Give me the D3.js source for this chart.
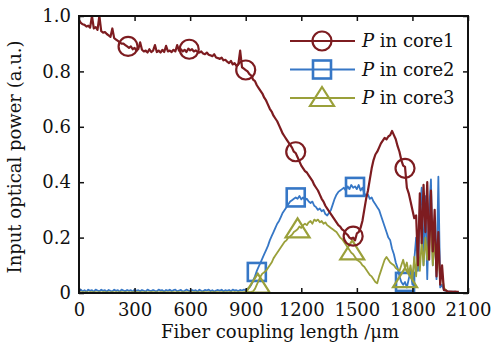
<!DOCTYPE html>
<html>
<head>
<meta charset="utf-8">
<script src="https://cdn.jsdelivr.net/npm/d3@7"></script>
<style>
  body { margin: 0; background: #fff; }
  text { font-family: "DejaVu Serif", serif; fill: #111; }
</style>
</head>
<body>
<svg id="chart" width="491" height="349"></svg>
<script>
// sampled every 10 um, starting at 0 um (one row = 100 um)
const lengthStep = 10;

const core1 = [
  .985,.975,.97,.968,.962,.965,.958,1.0,.955,.96,
  .95,1.0,.945,.94,.942,.935,.93,.925,.955,.92,
  .915,.91,.905,.9,.9,.895,.89,.885,.89,.88,
  .885,.875,.88,.905,.878,.872,.875,.868,.88,.87,
  .875,.895,.87,.875,.868,.878,.87,.892,.872,.875,
  .87,.878,.872,.895,.875,.88,.872,.878,.87,.882,
  .876,.88,.872,.876,.87,.868,.872,.865,.862,.868,
  .86,.858,.855,.862,.85,.848,.845,.85,.84,.842,
  .835,.83,.838,.825,.83,.82,.825,.875,.815,.81,
  .805,.8,.79,.785,.77,.765,.75,.74,.73,.72,
  .705,.695,.68,.665,.655,.64,.63,.62,.605,.59,
  .575,.565,.555,.545,.535,.525,.51,.505,.49,.475,
  .46,.45,.44,.435,.425,.415,.405,.39,.38,.37,
  .355,.34,.33,.315,.305,.295,.285,.275,.265,.255,
  .245,.24,.23,.225,.215,.21,.2,.195,.2,.19,
  .215,.22,.235,.26,.3,.34,.37,.41,.45,.48,
  .5,.51,.525,.54,.55,.56,.555,.565,.57,.585,
  .57,.555,.53,.51,.48,.46,.455,.38,.36,.33,
  .3,.27,.28,.1,.36,.18,.39,.22,.4,.12,
  .37,.15,.3,.06,.22,.03,.1,.01,.01,.005,
  .005,.005,.004,.005,.004,.004
];

const core2 = [
  .008,.012,.006,.01,.004,.012,.008,.01,.005,.012,
  .009,.006,.012,.008,.01,.005,.011,.008,.006,.012,
  .008,.01,.005,.012,.009,.006,.011,.008,.01,.005,
  .012,.008,.01,.006,.011,.008,.005,.012,.009,.007,
  .011,.008,.006,.012,.009,.01,.005,.011,.008,.012,
  .007,.01,.012,.006,.009,.011,.005,.008,.012,.009,
  .006,.011,.008,.01,.005,.012,.008,.006,.011,.009,
  .012,.007,.01,.005,.009,.011,.008,.012,.006,.01,
  .008,.011,.006,.012,.009,.01,.007,.011,.009,.012,
  .01,.015,.02,.03,.045,.06,.08,.095,.11,.125,
  .14,.155,.17,.19,.205,.22,.235,.25,.26,.275,
  .29,.3,.31,.32,.33,.335,.34,.345,.34,.35,
  .338,.345,.335,.34,.33,.325,.33,.315,.31,.3,
  .305,.295,.3,.285,.28,.29,.3,.32,.34,.355,
  .365,.37,.375,.38,.37,.385,.375,.39,.38,.385,
  .375,.39,.37,.38,.36,.35,.355,.34,.345,.33,
  .32,.31,.3,.28,.26,.24,.22,.2,.19,.16,
  .14,.11,.09,.06,.04,.03,.04,.02,.05,.08,
  .03,.12,.2,.08,.3,.38,.1,.35,.05,.3,
  .41,.1,.25,.05,.42,.02,.03,.01,.008,.006,
  .005,.004,.005,.003,.004,.003
];

const core3 = [
  .003,.002,.003,.002,.003,.002,.003,.003,.002,.003,
  .002,.003,.002,.003,.003,.002,.003,.002,.003,.002,
  .003,.002,.003,.003,.002,.003,.002,.003,.002,.003,
  .002,.003,.003,.002,.003,.002,.003,.002,.003,.003,
  .003,.002,.003,.002,.003,.003,.002,.003,.002,.003,
  .002,.003,.002,.003,.003,.002,.003,.002,.003,.002,
  .003,.003,.002,.003,.002,.003,.002,.003,.003,.002,
  .003,.002,.003,.002,.003,.003,.002,.003,.002,.003,
  .002,.003,.003,.002,.003,.002,.003,.003,.002,.003,
  .003,.003,.003,.004,.006,.015,.03,.045,.06,.07,
  .075,.08,.09,.1,.11,.125,.135,.145,.155,.165,
  .175,.185,.19,.2,.205,.21,.22,.225,.23,.24,
  .235,.245,.25,.245,.255,.26,.25,.265,.26,.265,
  .255,.26,.25,.255,.245,.24,.235,.23,.225,.22,
  .21,.2,.195,.185,.175,.165,.155,.145,.14,.13,
  .12,.115,.11,.1,.095,.085,.075,.065,.06,.05,
  .04,.035,.06,.08,.1,.12,.13,.12,.11,.105,
  .1,.09,.085,.08,.1,.12,.09,.11,.07,.1,
  .05,.13,.06,.17,.08,.19,.1,.2,.12,.22,
  .24,.1,.2,.08,.15,.05,.06,.02,.01,.004,
  .003,.002,.003,.002,.003,.002
];

// marker positions [length um, power]
const core1Markers = [[265, .89], [595, .88], [900, .805], [1170, .51], [1480, .205], [1760, .45]];
const core2Markers = [[960, .076], [1170, .345], [1490, .383], [1760, .04]];
const core3Markers = [[965, .03], [1180, .23], [1475, .15], [1760, .05]];

const seriesNames = ["core1", "core2", "core3"];
const xTicks = [0, 300, 600, 900, 1200, 1500, 1800, 2100];
const yTicks = [0, 0.2, 0.4, 0.6, 0.8, 1.0];

const colors = { core1: "#7d1c20", core2: "#3677c6", core3: "#9aa03a" };
const widths = { core1: 2.2, core2: 1.8, core3: 1.8 };

const svg = d3.select("#chart");
const box = { left: 79, right: 468, top: 16, bottom: 293 };

const x = d3.scaleLinear().domain([0, 2100]).range([box.left, box.right]);
const y = d3.scaleLinear().domain([0, 1]).range([box.bottom, box.top]);

const series = {
  core1: { values: core1, markers: core1Markers, shape: "circle" },
  core2: { values: core2, markers: core2Markers, shape: "square" },
  core3: { values: core3, markers: core3Markers, shape: "triangle" }
};

const line = d3.line()
  .x((d, i) => x(i * lengthStep))
  .y(d => y(d));

function marker(g, shape, cx, cy, color) {
  if (shape === "circle") {
    g.append("circle").attr("cx", cx).attr("cy", cy).attr("r", 9.5)
      .attr("fill", "none").attr("stroke", color).attr("stroke-width", 2.2);
  } else if (shape === "square") {
    g.append("rect").attr("x", cx - 9).attr("y", cy - 9).attr("width", 18).attr("height", 18)
      .attr("fill", "none").attr("stroke", color).attr("stroke-width", 2.6);
  } else {
    g.append("path")
      .attr("d", `M${cx},${cy - 11}L${cx + 12},${cy + 8}L${cx - 12},${cy + 8}Z`)
      .attr("fill", "none").attr("stroke", color).attr("stroke-width", 2.2);
  }
}

// draw order: blue, olive, then dark red on top
const plot = svg.append("g");
["core2", "core3", "core1"].forEach(name => {
  const s = series[name];
  plot.append("path")
    .datum(s.values)
    .attr("fill", "none")
    .attr("stroke", colors[name])
    .attr("stroke-width", widths[name])
    .attr("stroke-linejoin", "round")
    .attr("d", line);
  const mg = plot.append("g");
  s.markers.forEach(m => marker(mg, s.shape, x(m[0]), y(m[1]), colors[name]));
});

/* ---------- axes, ticks inward on all sides ---------- */
const fmtY = d => d === 0 ? "0" : d3.format(".1f")(d);

svg.append("g")
  .attr("transform", `translate(0,${box.bottom})`)
  .call(d3.axisBottom(x).tickValues(xTicks).tickFormat(d3.format("d"))
    .tickSize(-5).tickSizeOuter(0).tickPadding(10));
svg.append("g")
  .attr("transform", `translate(${box.left},0)`)
  .call(d3.axisLeft(y).tickValues(yTicks).tickFormat(fmtY).tickSize(-5).tickSizeOuter(0).tickPadding(8));
svg.append("g")
  .attr("transform", `translate(0,${box.top})`)
  .call(d3.axisTop(x).tickValues(xTicks).tickSize(-5).tickSizeOuter(0).tickFormat(""));
svg.append("g")
  .attr("transform", `translate(${box.right},0)`)
  .call(d3.axisRight(y).tickValues(yTicks).tickSize(-5).tickSizeOuter(0).tickFormat(""));

svg.selectAll(".domain").remove();
svg.selectAll(".tick line").attr("stroke", "#111").attr("stroke-width", 1.5);
svg.selectAll(".tick text")
  .style("font-family", "'DejaVu Serif', serif")
  .style("font-size", "18px")
  .attr("fill", "#111");

svg.append("rect")
  .attr("x", box.left).attr("y", box.top)
  .attr("width", box.right - box.left).attr("height", box.bottom - box.top)
  .attr("fill", "none").attr("stroke", "#111").attr("stroke-width", 2);

svg.append("text")
  .attr("x", 280).attr("y", 338)
  .attr("text-anchor", "middle")
  .style("font-size", "18px")
  .text("Fiber coupling length /\u03bcm");

svg.append("text")
  .attr("transform", "translate(21,157) rotate(-90)")
  .attr("text-anchor", "middle")
  .style("font-size", "18px")
  .text("Input optical power (a.u.)");

/* ---------- legend ---------- */
const legend = svg.append("g");
seriesNames.forEach((name, i) => {
  const ly = 41 + i * 28.5;
  legend.append("line")
    .attr("x1", 290).attr("x2", 355).attr("y1", ly).attr("y2", ly)
    .attr("stroke", colors[name]).attr("stroke-width", 1.8);
  marker(legend, series[name].shape, 322, ly, colors[name]);
  const t = legend.append("text")
    .attr("x", 362).attr("y", ly + 6)
    .style("font-size", "18px");
  t.append("tspan").attr("font-style", "italic").text("P");
  t.append("tspan").text(" in " + name);
});
</script>
</body>
</html>
